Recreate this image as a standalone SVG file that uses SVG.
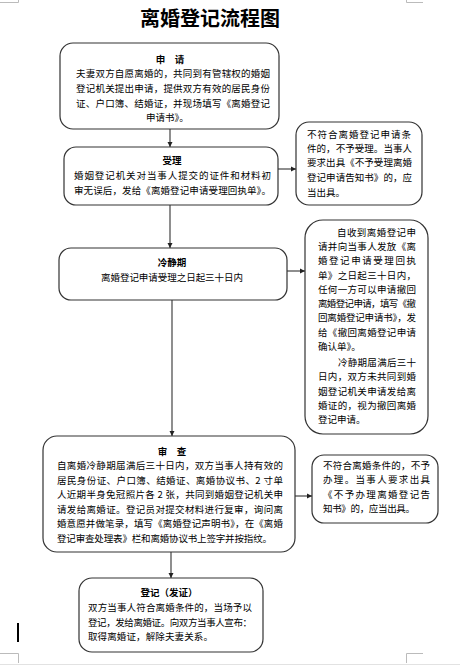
<svg xmlns="http://www.w3.org/2000/svg" width="460" height="666" viewBox="0 0 460 666">
<style>
.box{fill:#fff;stroke:#333;stroke-width:1.2}
.t{font-family:"Noto Sans CJK SC","Noto Sans",sans-serif;font-size:9.5px;fill:#000}
.h{font-family:"Noto Sans CJK SC","Noto Sans",sans-serif;font-size:9.5px;font-weight:bold;fill:#000;text-anchor:middle}
.ttl{font-family:"Noto Sans CJK SC","Noto Sans",sans-serif;font-size:20px;font-weight:bold;fill:#000;text-anchor:middle}
.c{stroke:#444;stroke-width:1.2;fill:none;marker-end:url(#ah)}
.mark{stroke:#bbb;stroke-width:1;fill:none}
</style>
<defs>
<marker id="ah" markerWidth="6" markerHeight="6" refX="5" refY="3" orient="auto" markerUnits="userSpaceOnUse">
<path d="M0,0.5 L5,3 L0,5.5 Z" fill="#222"/>
</marker>
</defs>
<rect width="460" height="666" fill="#fff"/>
<g id="page-marks">
<path class="mark" d="M0,2.5 H18.5 V0 M0,653.5 H18.5 V663 M406.5,0 V2.5 H423 M406.5,663 V653.5 H423"/>
<path d="M0,664.5 H460" stroke="#e2e2e2" stroke-width="1"/>
<rect x="17" y="623" width="2" height="19" fill="#000"/>
</g>
<text id="title" class="ttl" x="210" y="25.6">离婚登记流程图</text>
<g id="connectors">
<path class="c" d="M170,129 V147"/>
<path class="c" d="M278,169 H296"/>
<path class="c" d="M170,205 V248"/>
<path class="c" d="M287,271 H305"/>
<path class="c" d="M172,300 V436"/>
<path class="c" d="M295,496 H312"/>
<path class="c" d="M171,552 V578"/>
</g>
<g id="n-apply">
<rect class="box" x="60" y="43" width="219" height="86" rx="13"/>
<text class="h" x="170" y="62.8">申　请</text>
<text class="t" x="76" y="77" textLength="194" lengthAdjust="spacing">夫妻双方自愿离婚的，共同到有管辖权的婚姻</text>
<text class="t" x="76" y="91.8" textLength="194" lengthAdjust="spacing">登记机关提出申请，提供双方有效的居民身份</text>
<text class="t" x="76" y="106.6" textLength="194" lengthAdjust="spacing">证、户口簿、结婚证，并现场填写《离婚登记</text>
<text class="t" x="146" y="121.4">申请书》。</text>
</g>
<g id="n-accept">
<rect class="box" x="64" y="147" width="214" height="58" rx="12"/>
<text class="h" x="172" y="164.4">受理</text>
<text class="t" x="74" y="178.6" textLength="197" lengthAdjust="spacing">婚姻登记机关对当事人提交的证件和材料初</text>
<text class="t" x="74" y="193.6" textLength="197" lengthAdjust="spacing">审无误后，发给《离婚登记申请受理回执单》。</text>
</g>
<g id="n-reject1">
<rect class="box" x="296" y="122" width="126" height="83" rx="13"/>
<text class="t" x="307" y="137.6" textLength="104" lengthAdjust="spacing">不符合离婚登记申请条</text>
<text class="t" x="307" y="151.6" textLength="105" lengthAdjust="spacing">件的，不予受理。当事人</text>
<text class="t" x="307" y="166.1" textLength="105" lengthAdjust="spacing">要求出具《不予受理离婚</text>
<text class="t" x="307" y="180.6" textLength="105" lengthAdjust="spacing">登记申请告知书》的，应</text>
<text class="t" x="307" y="195.6">当出具。</text>
</g>
<g id="n-cool">
<rect class="box" x="59" y="248" width="228" height="52" rx="12"/>
<text class="h" x="172" y="266.4">冷静期</text>
<text class="t" x="101" y="280.6" textLength="142" lengthAdjust="spacing">离婚登记申请受理之日起三十日内</text>
</g>
<g id="n-withdraw">
<rect class="box" x="305" y="220" width="123" height="214" rx="18"/>
<text class="t" x="337" y="235.6" textLength="79" lengthAdjust="spacing">自收到离婚登记申</text>
<text class="t" x="318" y="249.6" textLength="98" lengthAdjust="spacing">请并向当事人发放《离</text>
<text class="t" x="318" y="263.6" textLength="98" lengthAdjust="spacing">婚登记申请受理回执</text>
<text class="t" x="318" y="278.6" textLength="98" lengthAdjust="spacing">单》之日起三十日内，</text>
<text class="t" x="318" y="292.6" textLength="98" lengthAdjust="spacing">任何一方可以申请撤回</text>
<text class="t" x="318" y="306.6" textLength="98" lengthAdjust="spacing">离婚登记申请，填写《撤</text>
<text class="t" x="318" y="320.6" textLength="98" lengthAdjust="spacing">回离婚登记申请书》，发</text>
<text class="t" x="318" y="335.6" textLength="98" lengthAdjust="spacing">给《撤回离婚登记申请</text>
<text class="t" x="318" y="349.6">确认单》。</text>
<text class="t" x="338" y="365.6" textLength="78" lengthAdjust="spacing">冷静期届满后三十</text>
<text class="t" x="318" y="379.6" textLength="98" lengthAdjust="spacing">日内，双方未共同到婚</text>
<text class="t" x="318" y="394.6" textLength="98" lengthAdjust="spacing">姻登记机关申请发给离</text>
<text class="t" x="318" y="408.6" textLength="98" lengthAdjust="spacing">婚证的，视为撤回离婚</text>
<text class="t" x="318" y="422.6">登记申请。</text>
</g>
<g id="n-review">
<rect class="box" x="43" y="436" width="252" height="116" rx="14"/>
<text class="h" x="172" y="454.6">审　查</text>
<text class="t" x="57" y="469.1" textLength="226" lengthAdjust="spacing">自离婚冷静期届满后三十日内，双方当事人持有效的</text>
<text class="t" x="57" y="483.6" textLength="226" lengthAdjust="spacing">居民身份证、户口簿、结婚证、离婚协议书、2 寸单</text>
<text class="t" x="57" y="498.1" textLength="226" lengthAdjust="spacing">人近期半身免冠照片各 2 张，共同到婚姻登记机关申</text>
<text class="t" x="57" y="512.6" textLength="226" lengthAdjust="spacing">请发给离婚证。登记员对提交材料进行复审，询问离</text>
<text class="t" x="57" y="527.1" textLength="226" lengthAdjust="spacing">婚意愿并做笔录，填写《离婚登记声明书》，在《离婚</text>
<text class="t" x="57" y="541.6" textLength="215" lengthAdjust="spacing">登记审查处理表》栏和离婚协议书上签字并按指纹。</text>
</g>
<g id="n-reject2">
<rect class="box" x="312" y="455" width="126" height="68" rx="12"/>
<text class="t" x="323" y="468.6" textLength="107" lengthAdjust="spacing">不符合离婚条件的，不予</text>
<text class="t" x="323" y="482.6" textLength="107" lengthAdjust="spacing">办理。当事人要求出具</text>
<text class="t" x="323" y="497.6" textLength="107" lengthAdjust="spacing">《不予办理离婚登记告</text>
<text class="t" x="323" y="511.6" textLength="92" lengthAdjust="spacing">知书》的，应当出具。</text>
</g>
<g id="n-register">
<rect class="box" x="79" y="578" width="184" height="74" rx="13"/>
<text class="h" x="169" y="596.4">登记（发证）</text>
<text class="t" x="88" y="610.6" textLength="164" lengthAdjust="spacing">双方当事人符合离婚条件的，当场予以</text>
<text class="t" x="88" y="625.6" textLength="164" lengthAdjust="spacing">登记，发给离婚证。向双方当事人宣布：</text>
<text class="t" x="88" y="639.6" textLength="125" lengthAdjust="spacing">取得离婚证，解除夫妻关系。</text>
</g>
</svg>
